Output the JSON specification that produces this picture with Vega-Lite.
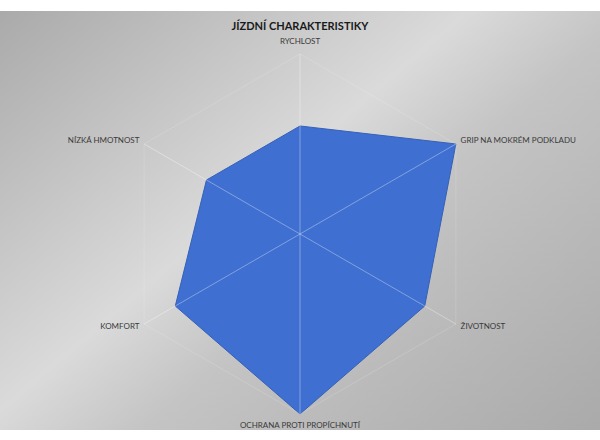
{
  "$schema": "https://vega.github.io/schema/vega-lite/v6.json",
  "width": 600,
  "height": 440,
  "autosize": {"type": "fit", "contains": "padding"},
  "padding": {"top": 11, "bottom": 10, "left": 0, "right": 0},
  "background": "white",
  "title": {
    "text": "JÍZDNÍ CHARAKTERISTIKY",
    "font": "Lato",
    "fontSize": 11,
    "fontWeight": "bold",
    "color": "#1a1a1a",
    "anchor": "middle",
    "offset": -21
  },
  "config": {
    "view": {
      "stroke": null,
      "fill": {
        "gradient": "linear",
        "x1": 0, "y1": 0, "x2": 1.089, "y2": 0.891,
        "stops": [
          {"offset": 0, "color": "#aaaaaa"},
          {"offset": 0.43, "color": "#dadada"},
          {"offset": 0.58, "color": "#c4c4c4"},
          {"offset": 1, "color": "#aaaaaa"}
        ]
      }
    },
    "text": {"font": "Lato", "fontSize": 8, "color": "#3a3a3a"}
  },
  "data": {
    "values": [
      {"kategorie": "RYCHLOST", "poradi": 0, "hodnota": 3},
      {"kategorie": "GRIP NA MOKRÉM PODKLADU", "poradi": 1, "hodnota": 5},
      {"kategorie": "ŽIVOTNOST", "poradi": 2, "hodnota": 4},
      {"kategorie": "OCHRANA PROTI PROPÍCHNUTÍ", "poradi": 3, "hodnota": 5},
      {"kategorie": "KOMFORT", "poradi": 4, "hodnota": 4},
      {"kategorie": "NÍZKÁ HMOTNOST", "poradi": 5, "hodnota": 3}
    ]
  },
  "transform": [
    {"calculate": "datum.poradi * PI / 3", "as": "uhel"},
    {"calculate": "datum.hodnota * sin(datum.uhel)", "as": "px"},
    {"calculate": "datum.hodnota * cos(datum.uhel)", "as": "py"},
    {"calculate": "5 * sin(datum.uhel)", "as": "gx"},
    {"calculate": "5 * cos(datum.uhel)", "as": "gy"},
    {"calculate": "0", "as": "stred"}
  ],
  "layer": [
    {
      "mark": {"type": "line", "interpolate": "linear-closed", "fill": "#3f6fd0", "stroke": "#3560b8", "strokeWidth": 1},
      "encoding": {
        "x": {"field": "px", "type": "quantitative", "scale": {"domain": [-8.3333, 8.3333], "nice": false, "zero": false}, "axis": null},
        "y": {"field": "py", "type": "quantitative", "scale": {"domain": [-5.4444, 6.1944], "nice": false, "zero": false}, "axis": null},
        "order": {"field": "poradi", "type": "quantitative"}
      }
    },
    {
      "mark": {"type": "line", "interpolate": "linear-closed", "stroke": "#ffffff", "strokeOpacity": 0.15, "strokeWidth": 1},
      "encoding": {
        "x": {"field": "gx", "type": "quantitative"},
        "y": {"field": "gy", "type": "quantitative"},
        "order": {"field": "poradi", "type": "quantitative"}
      }
    },
    {
      "mark": {"type": "rule", "stroke": "#ffffff", "strokeOpacity": 0.35, "strokeWidth": 1},
      "encoding": {
        "x": {"field": "stred", "type": "quantitative"},
        "y": {"field": "stred", "type": "quantitative"},
        "x2": {"field": "gx"},
        "y2": {"field": "gy"}
      }
    },
    {
      "transform": [
        {"filter": "datum.poradi == 0 || datum.poradi == 3"},
        {"calculate": "5.32 * sin(datum.uhel)", "as": "lx"},
        {"calculate": "5.32 * cos(datum.uhel)", "as": "ly"}
      ],
      "mark": {"type": "text", "align": "center", "baseline": "middle"},
      "encoding": {
        "x": {"field": "lx", "type": "quantitative"},
        "y": {"field": "ly", "type": "quantitative"},
        "text": {"field": "kategorie"}
      }
    },
    {
      "transform": [
        {"filter": "datum.poradi == 1 || datum.poradi == 2"},
        {"calculate": "5.15 * sin(datum.uhel)", "as": "lx"},
        {"calculate": "5.15 * cos(datum.uhel)", "as": "ly"}
      ],
      "mark": {"type": "text", "align": "left", "baseline": "middle"},
      "encoding": {
        "x": {"field": "lx", "type": "quantitative"},
        "y": {"field": "ly", "type": "quantitative"},
        "text": {"field": "kategorie"}
      }
    },
    {
      "transform": [
        {"filter": "datum.poradi == 4 || datum.poradi == 5"},
        {"calculate": "5.15 * sin(datum.uhel)", "as": "lx"},
        {"calculate": "5.15 * cos(datum.uhel)", "as": "ly"}
      ],
      "mark": {"type": "text", "align": "right", "baseline": "middle"},
      "encoding": {
        "x": {"field": "lx", "type": "quantitative"},
        "y": {"field": "ly", "type": "quantitative"},
        "text": {"field": "kategorie"}
      }
    }
  ]
}
